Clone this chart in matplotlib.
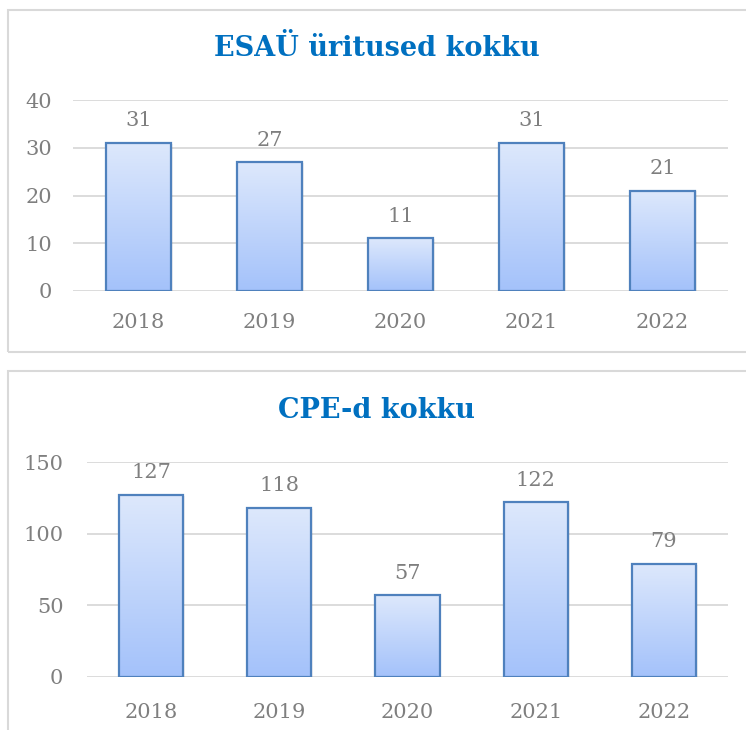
import numpy as np
import matplotlib
matplotlib.use("Agg")
import matplotlib.pyplot as plt
from matplotlib.patches import Rectangle
from matplotlib.colors import LinearSegmentedColormap

years = ["2018", "2019", "2020", "2021", "2022"]
esau_events = [31, 27, 11, 31, 21]
cpe_counts = [127, 118, 57, 122, 79]

title_top = "ESAÜ üritused kokku"
title_bottom = "CPE-d kokku"

plt.rcParams["font.family"] = ["DejaVu Serif"]

grey = "#7F7F7F"
grid_col = "#D9D9D9"
edge_col = "#4F81BD"
grad = LinearSegmentedColormap.from_list("bar", ["#A4C2FA", "#DDE8FC"])

W, H = 746, 730
fig = plt.figure(figsize=(W / 100, H / 100), dpi=100)


def px_box(x0, y0, x1, y1):
    # pixel box (top-left origin) -> figure fraction [left, bottom, w, h]
    return [x0 / W, 1 - y1 / H, (x1 - x0) / W, (y1 - y0) / H]


def frame(x0, y0, x1, y1):
    l, b, w, h = px_box(x0, y0, x1, y1)
    fig.patches.append(Rectangle((l, b), w, h, transform=fig.transFigure,
                                 fill=False, edgecolor="#D9D9D9", lw=1.5))


def bar_chart(ax, values, ymax, step, title, title_y, ypad, xpad):
    x = np.arange(len(values))
    for xi, v in zip(x, values):
        x0, x1 = xi - 0.25, xi + 0.25
        # light shadow
        ax.add_patch(Rectangle((x0 + 0.015, -ymax * 0.004), 0.5, v,
                               facecolor="#000000", alpha=0.06, lw=0, zorder=2))
        ax.imshow(np.linspace(0, 1, 100).reshape(-1, 1), cmap=grad,
                  extent=(x0, x1, 0, v), origin="lower", aspect="auto", zorder=3)
        ax.add_patch(Rectangle((x0, 0), 0.5, v, fill=False,
                               edgecolor=edge_col, lw=1.6, zorder=4))
        ax.annotate(str(v), (xi, v), xytext=(0, 9), textcoords="offset points",
                    ha="center", va="bottom", fontsize=15, color=grey)
    ax.set_aspect("auto")
    ax.set_xlim(-0.5, len(values) - 0.5)
    ax.set_ylim(0, ymax)
    ax.set_yticks(np.arange(0, ymax + 1, step))
    ax.set_xticks(x)
    ax.set_xticklabels(years)
    ax.tick_params(length=0, labelsize=15, labelcolor=grey)
    ax.tick_params(axis="y", pad=ypad)
    ax.tick_params(axis="x", pad=xpad)
    ax.grid(axis="y", color=grid_col, lw=1.3, zorder=0)
    ax.set_axisbelow(True)
    for s in ax.spines.values():
        s.set_visible(False)
    fig.text(0.505, 1 - title_y / H, title, ha="center", va="center",
             fontsize=19.5, fontweight="bold", color="#0070C0")


frame(8, 10, 760, 352)
frame(8, 371, 760, 745)

ax1 = fig.add_axes(px_box(73, 100, 728, 291))
bar_chart(ax1, esau_events, 40, 10, title_top, 49, 15, 16)

ax2 = fig.add_axes(px_box(87, 462, 728, 677))
bar_chart(ax2, cpe_counts, 150, 50, title_bottom, 411, 17, 19)

fig.savefig("out.png", dpi=100)
